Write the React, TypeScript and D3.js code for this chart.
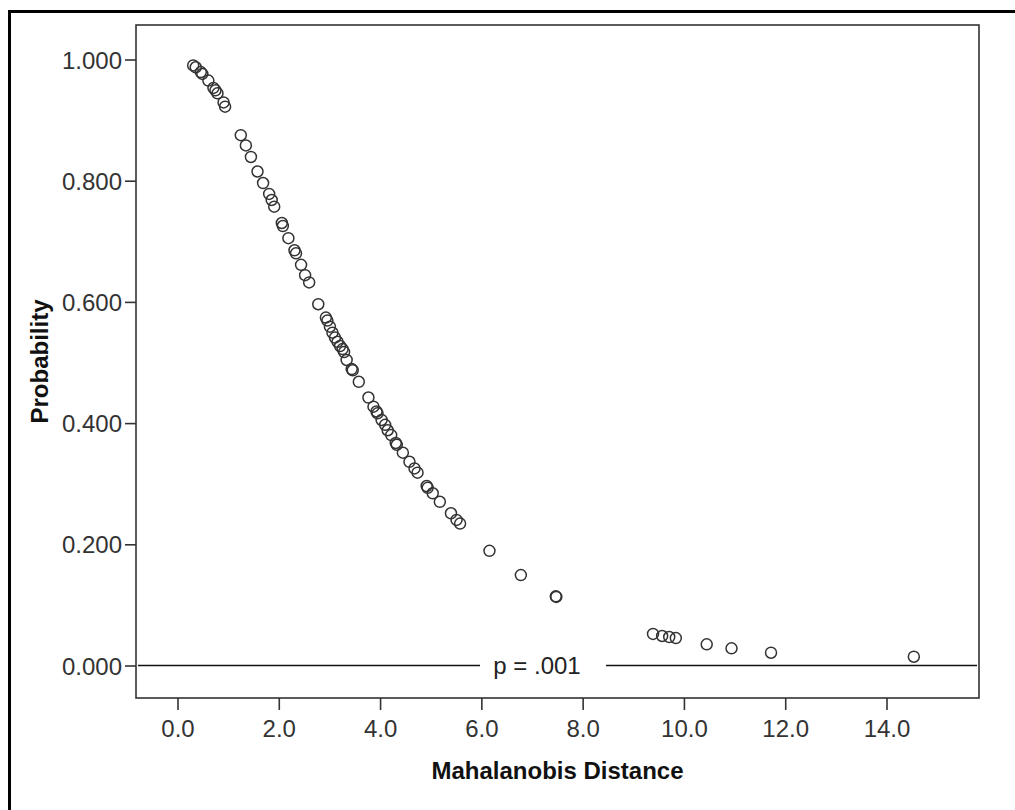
import React from "react";
import * as d3 from "d3";

const distances: number[] = [
  0.30, 0.35, 0.45, 0.48, 0.60, 0.70, 0.74, 0.78, 0.90, 0.93,
  1.24, 1.34, 1.44, 1.57, 1.68, 1.80, 1.85, 1.90, 2.05, 2.07,
  2.18, 2.30, 2.33, 2.43, 2.51, 2.59, 2.77, 2.92, 2.95, 3.00,
  3.05, 3.10, 3.15, 3.20, 3.25, 3.28, 3.33, 3.43, 3.45, 3.57,
  3.76, 3.86, 3.92, 3.94, 4.02, 4.09, 4.14, 4.21, 4.30, 4.32,
  4.44, 4.57, 4.67, 4.73, 4.91, 4.93, 5.03, 5.17, 5.39, 5.50,
  5.57, 6.15, 6.77, 7.46, 7.47, 9.38, 9.56, 9.70, 9.83, 10.44,
  10.93, 11.71, 14.53,
];

const probabilities: number[] = [
  0.991, 0.988, 0.980, 0.977, 0.966, 0.954, 0.950, 0.945, 0.930, 0.923,
  0.876, 0.859, 0.840, 0.816, 0.797, 0.779, 0.769, 0.758, 0.731, 0.726,
  0.706, 0.686, 0.681, 0.662, 0.645, 0.633, 0.597, 0.575, 0.570, 0.560,
  0.550, 0.542, 0.535, 0.528, 0.523, 0.518, 0.505, 0.490, 0.488, 0.469,
  0.443, 0.428, 0.420, 0.417, 0.406, 0.398, 0.389, 0.381, 0.368, 0.365,
  0.352, 0.337, 0.326, 0.319, 0.297, 0.294, 0.285, 0.271, 0.252, 0.241,
  0.235, 0.190, 0.150, 0.115, 0.114, 0.053, 0.0495, 0.0478, 0.046, 0.0358,
  0.0292, 0.0219, 0.0153,
];

const xTicks: number[] = [0, 2, 4, 6, 8, 10, 12, 14];
const yTicks: number[] = [0, 0.2, 0.4, 0.6, 0.8, 1.0];
const cutoffP = 0.001;
const cutoffLabel = "p = .001";
const xTitle = "Mahalanobis Distance";
const yTitle = "Probability";

const W = 1015;
const H = 810;
const plot = { left: 136, top: 25, right: 979, bottom: 698 };

export default function App() {
  const x = d3.scaleLinear().domain([0, 14]).range([178, 887]);
  const y = d3.scaleLinear().domain([0, 1]).range([666, 60]);
  const font = "'Liberation Sans', Arial, sans-serif";
  const tickFs = 24;
  const cy = y(cutoffP);
  const labelX = 537;
  const gapL = 480;
  const gapR = 606;

  return (
    <svg
      width={W}
      height={H}
      style={{ position: "absolute", left: 0, top: 0, background: "#fff" }}
    >
      <rect x={0} y={0} width={W} height={H} fill="#fff" />
      {/* outer frame */}
      <rect x={9.5} y={11.5} width={1030} height={840} fill="none" stroke="#000" strokeWidth={3} />
      {/* plot box */}
      <rect
        x={plot.left}
        y={plot.top}
        width={plot.right - plot.left}
        height={plot.bottom - plot.top}
        fill="#fff"
        stroke="#333"
        strokeWidth={1.6}
      />
      {/* y ticks */}
      {yTicks.map((t) => (
        <g key={"y" + t}>
          <line x1={plot.left - 11} x2={plot.left} y1={y(t)} y2={y(t)} stroke="#333" strokeWidth={1.6} />
          <text
            x={plot.left - 14}
            y={y(t)}
            dy="0.36em"
            textAnchor="end"
            fontFamily={font}
            fontSize={tickFs}
            fill="#333"
          >
            {d3.format(".3f")(t)}
          </text>
        </g>
      ))}
      {/* x ticks */}
      {xTicks.map((t) => (
        <g key={"x" + t}>
          <line x1={x(t)} x2={x(t)} y1={plot.bottom} y2={plot.bottom + 12} stroke="#333" strokeWidth={1.6} />
          <text
            x={x(t)}
            y={plot.bottom + 39}
            textAnchor="middle"
            fontFamily={font}
            fontSize={tickFs}
            fill="#333"
          >
            {d3.format(".1f")(t)}
          </text>
        </g>
      ))}
      {/* cutoff line */}
      <line x1={plot.left + 2} x2={gapL} y1={cy} y2={cy} stroke="#111" strokeWidth={1.5} />
      <line x1={gapR} x2={plot.right - 2} y1={cy} y2={cy} stroke="#111" strokeWidth={1.5} />
      <text x={labelX} y={cy} dy="0.36em" textAnchor="middle" fontFamily={font} fontSize={tickFs} fill="#222">
        {cutoffLabel}
      </text>
      {/* points */}
      {distances.map((d, i) => (
        <circle
          key={i}
          cx={x(d)}
          cy={y(probabilities[i])}
          r={5.5}
          fill="none"
          stroke="#333"
          strokeWidth={1.5}
        />
      ))}
      {/* titles */}
      <text
        x={(plot.left + plot.right) / 2}
        y={779}
        textAnchor="middle"
        fontFamily={font}
        fontSize={24}
        fontWeight="bold"
        fill="#111"
      >
        {xTitle}
      </text>
      <text
        transform={`translate(48, ${(plot.top + plot.bottom) / 2}) rotate(-90)`}
        textAnchor="middle"
        fontFamily={font}
        fontSize={24}
        fontWeight="bold"
        fill="#111"
      >
        {yTitle}
      </text>
    </svg>
  );
}
